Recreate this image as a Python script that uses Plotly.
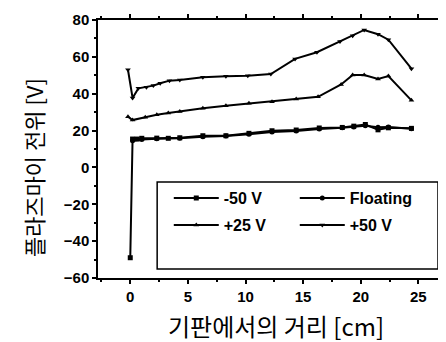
import plotly.graph_objects as go

# ---- data ----
x_m50 = [0, 0.2, 0.6, 1.0, 2.3, 3.3, 4.3, 6.3, 8.3, 10.3, 12.3, 14.4, 16.4, 18.4, 19.4, 20.4, 21.5, 22.4, 24.4]
y_m50 = [-49, 15.4, 15.4, 15.8, 15.9, 15.8, 16.1, 17.2, 17.2, 18.5, 19.9, 20.3, 21.4, 21.7, 22.4, 23.3, 20.4, 21.5, 21.2]

x_float = [0.2, 1.0, 2.3, 4.3, 6.3, 8.3, 10.3, 12.3, 14.4, 16.4, 18.4, 19.4, 20.4, 21.5, 22.4, 24.4]
y_float = [14.5, 15.2, 15.5, 15.8, 16.6, 17.0, 18.0, 19.2, 19.8, 20.9, 21.5, 22.0, 22.6, 21.8, 21.9, 21.0]

x_p25 = [-0.2, 0.2, 1.3, 2.3, 3.3, 4.3, 6.3, 8.3, 10.3, 12.3, 14.4, 16.3, 18.3, 19.3, 20.3, 21.5, 22.4, 24.4]
y_p25 = [27.5, 25.7, 27.2, 28.6, 29.5, 30.4, 32.1, 33.5, 34.8, 35.7, 37.1, 38.3, 45.0, 50.2, 50.2, 48.0, 49.6, 36.4]

x_p50 = [-0.2, 0.2, 0.7, 1.4, 2.0, 2.6, 3.4, 4.3, 6.3, 8.3, 10.2, 12.2, 14.3, 16.2, 18.2, 19.3, 20.3, 21.5, 22.4, 24.4]
y_p50 = [53.0, 37.7, 42.9, 43.5, 44.4, 45.7, 47.1, 47.4, 48.9, 49.5, 49.8, 50.7, 58.9, 62.5, 68.3, 71.4, 74.6, 72.3, 69.3, 53.6]

names = ["-50 V", "Floating", "+25 V", "+50 V"]
symbols = ["square", "circle", "triangle-up", "triangle-down"]
legend_rows = ["legend", "legend", "legend2", "legend2"]
x_ticks = [0, 5, 10, 15, 20, 25]
y_ticks = [-60, -40, -20, 0, 20, 40, 60, 80]

x_title = "기판에서의 거리 [cm]"
y_title = "플라즈마이 전위 [V]"

series = [(x_m50, y_m50), (x_float, y_float), (x_p25, y_p25), (x_p50, y_p50)]

fig = go.Figure()
for (xs, ys), nm, sym, lg in zip(series, names, symbols, legend_rows):
    fig.add_trace(go.Scatter(
        x=xs, y=ys, name=nm, mode="lines+markers", legend=lg,
        line=dict(color="black", width=2),
        marker=dict(symbol=sym, size=5, color="black"),
    ))

tickfont = dict(family="Liberation Sans, Arial", size=15, color="black", weight="bold")
axis_common = dict(
    showline=True, linecolor="black", linewidth=1.5, mirror="ticks",
    ticks="outside", ticklen=4, tickwidth=1.5, tickcolor="black",
    showgrid=False, zeroline=False, tickfont=tickfont,
)

fig.update_xaxes(range=[-2.8, 27.4], tickvals=x_ticks,
                 minor=dict(dtick=2.5, ticks="outside", ticklen=2, tickcolor="black"),
                 **axis_common)
fig.update_yaxes(range=[-60, 80], tickvals=y_ticks,
                 minor=dict(dtick=10, ticks="outside", ticklen=2, tickcolor="black"),
                 **axis_common)

# legend frame
fig.add_shape(type="rect", xref="paper", yref="paper",
              x0=0.17, x1=0.977, y0=0.035, y1=0.372,
              line=dict(color="black", width=1.5), fillcolor="white", layer="below")

legend_font = dict(family="Liberation Sans, Arial", size=16, color="black", weight="bold")
legend_common = dict(
    orientation="h", xanchor="left", yanchor="middle",
    entrywidth=66, entrywidthmode="pixels",
    bgcolor="rgba(0,0,0,0)", borderwidth=0, font=legend_font, itemwidth=45,
)

fig.update_layout(
    width=446, height=342,
    margin=dict(l=90, r=2, t=12, b=72),
    paper_bgcolor="white", plot_bgcolor="white",
    showlegend=True,
    legend=dict(x=(162 - 90) / 354, y=(270 - 190) / 258, **legend_common),
    legend2=dict(x=(162 - 90) / 354, y=(270 - 217) / 258, **legend_common),
    annotations=[
        dict(text=x_title, xref="paper", yref="paper", x=(271 - 90) / 354, y=-(318 - 270) / 258,
             xanchor="center", yanchor="middle", showarrow=False,
             font=dict(family="Noto Sans CJK KR", size=24, color="black")),
        dict(text=y_title, xref="paper", yref="paper", x=-(90 - 24) / 354, y=(270 - 160) / 258,
             xanchor="center", yanchor="middle", showarrow=False, textangle=-90,
             font=dict(family="Noto Sans CJK KR", size=22, color="black")),
    ],
)

fig.write_html("out.html")
